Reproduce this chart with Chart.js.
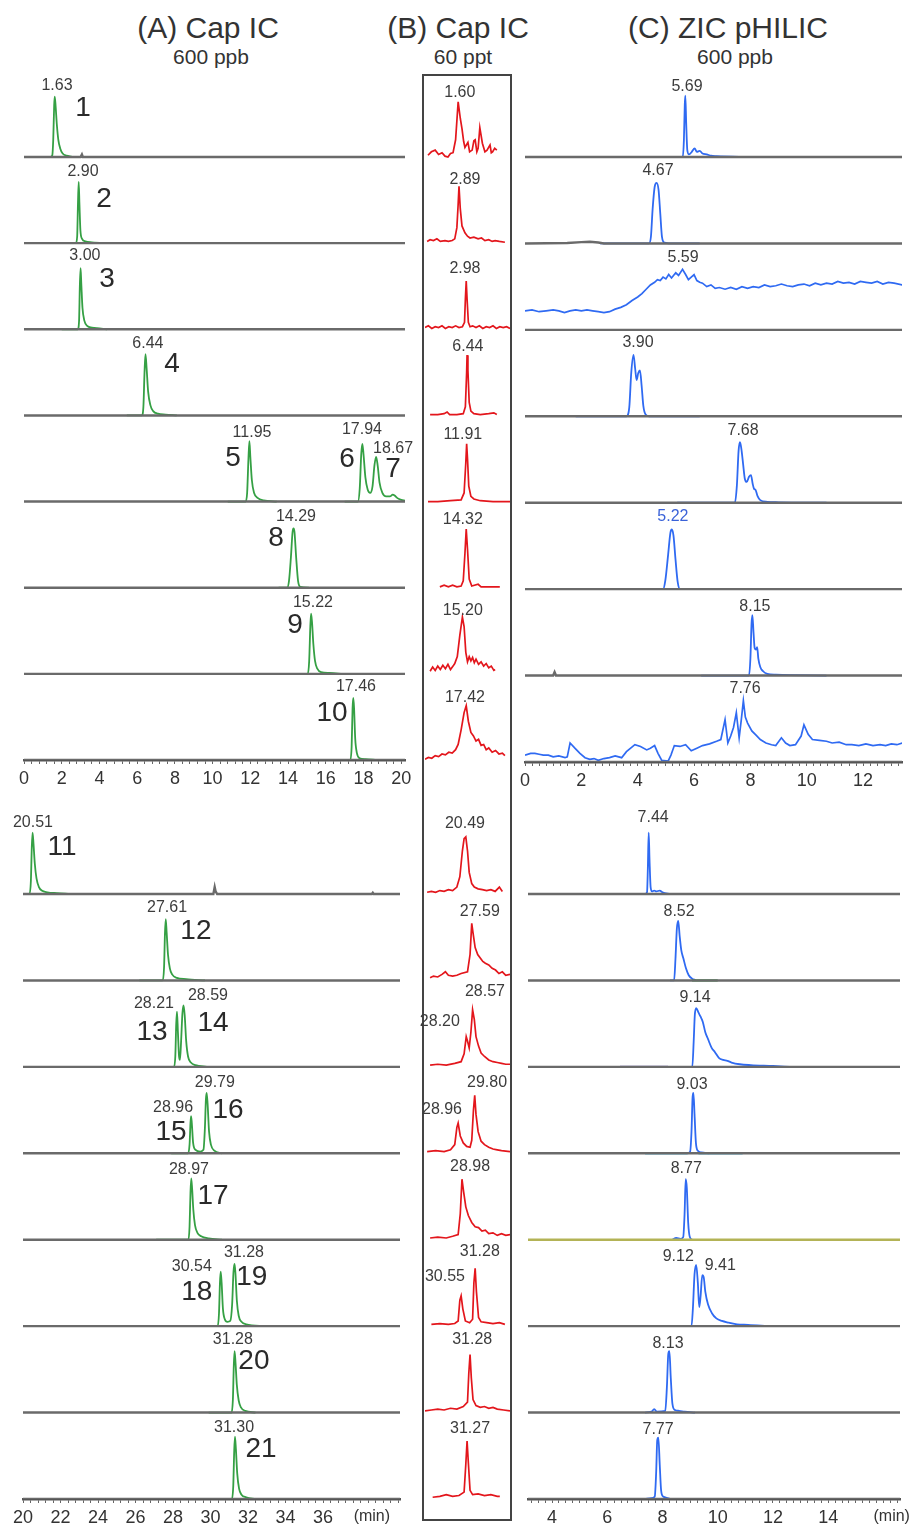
<!DOCTYPE html>
<html>
<head>
<meta charset="utf-8">
<script src="https://cdn.jsdelivr.net/npm/chart.js@4.4.1/dist/chart.umd.min.js"></script>
<style>
  html, body { margin: 0; padding: 0; background: #fff; }
  body { width: 915px; height: 1529px; position: relative; overflow: hidden;
         font-family: "Liberation Sans", Arial, sans-serif; color: #333; }
  canvas { position: absolute; }
  .title { position: absolute; transform: translateX(-50%); white-space: nowrap; font-size: 30px; line-height: 32px; }
  .sub { position: absolute; transform: translateX(-50%); white-space: nowrap; font-size: 21px; line-height: 24px; }
  #boxB { position: absolute; left: 422px; top: 74px; width: 86px; height: 1443px; border: 2px solid #444; }
</style>
</head>
<body>
<div class="title" style="left:208px;top:12px">(A) Cap IC</div>
<div class="sub" style="left:211px;top:45px">600 ppb</div>
<div class="title" style="left:458px;top:12px">(B) Cap IC</div>
<div class="sub" style="left:463px;top:45px">60 ppt</div>
<div class="title" style="left:728px;top:12px">(C) ZIC pHILIC</div>
<div class="sub" style="left:735px;top:45px">600 ppb</div>
<div id="boxB"></div>

<canvas id="aTop"></canvas>
<canvas id="aBot"></canvas>
<canvas id="bTop"></canvas>
<canvas id="bBot"></canvas>
<canvas id="cTop"></canvas>
<canvas id="cBot"></canvas>

<script>
// ---- (A) Cap IC, 600 ppb : [time (min), response] ----
const capA1 = [[1.40,0],[1.50,2],[1.55,20],[1.60,60],[1.63,70],[1.68,58],[1.74,38],[1.82,20],[1.92,10],[2.05,4],[2.25,1.5],[2.5,0.5],[2.7,0]];
const capA2 = [[1.9,0],[2.75,0],[2.82,8],[2.86,45],[2.90,71],[2.94,45],[2.99,15],[3.08,5],[3.25,2],[3.6,1],[4.5,0]];
const capA3 = [[2.0,0],[2.85,0],[2.92,10],[2.96,50],[3.00,71],[3.04,52],[3.10,25],[3.20,10],[3.35,4],[3.6,2],[4.0,1],[4.4,0]];
const capA4 = [[5.45,0],[6.25,0],[6.33,10],[6.39,50],[6.44,71],[6.50,55],[6.58,28],[6.70,12],[6.85,5],[7.1,2],[7.5,1],[8.1,0]];
const capA5 = [[10.8,0],[11.75,0],[11.83,10],[11.90,50],[11.95,70],[12.00,52],[12.08,25],[12.20,10],[12.40,4],[12.7,1.5],[13.4,0],[13.5,null],
               [17.0,0],[17.7,0],[17.80,15],[17.88,55],[17.94,67],[18.00,55],[18.10,28],[18.22,14],[18.35,10],[18.48,18],[18.58,42],[18.67,52],
               [18.75,42],[18.85,22],[19.0,10],[19.2,6],[19.4,6],[19.55,8],[19.65,7],[19.8,4],[20.0,2],[20.2,1]];
const capA6 = [[13.5,0],[13.95,0],[14.05,8],[14.15,35],[14.24,65],[14.29,69],[14.34,65],[14.43,35],[14.53,8],[14.65,1],[15.1,0]];
const capA7 = [[15.0,0],[15.05,0],[15.12,15],[15.18,55],[15.22,70],[15.27,60],[15.34,35],[15.43,15],[15.55,6],[15.75,2],[16.2,1],[16.9,0]];
const capA8 = [[16.2,0],[17.3,0],[17.37,15],[17.42,60],[17.46,72],[17.50,60],[17.56,25],[17.65,8],[17.8,2],[18.1,1],[18.7,0]];
const capA9 = [[20.0,0],[20.35,0],[20.42,15],[20.47,55],[20.51,71],[20.56,58],[20.63,35],[20.72,18],[20.85,8],[21.0,4],[21.3,2],[21.8,1],[22.5,0]];
const capA10 = [[26.2,0],[27.45,0],[27.52,15],[27.57,55],[27.61,71],[27.66,55],[27.73,30],[27.83,14],[27.95,7],[28.2,3],[28.7,1.5],[29.7,0]];
const capA11 = [[27.1,0],[28.05,0],[28.12,12],[28.17,50],[28.21,64],[28.26,40],[28.32,12],[28.37,8],[28.43,30],[28.50,62],[28.56,71],[28.62,60],[28.70,30],[28.80,12],[28.95,5],[29.2,2],[29.8,0]];
const capA12 = [[27.9,0],[28.8,0],[28.88,10],[28.93,35],[28.96,43],[29.00,35],[29.07,12],[29.2,4],[29.45,2],[29.62,4],[29.70,30],[29.75,62],[29.79,70],[29.84,58],[29.92,25],[30.02,10],[30.2,3],[30.6,0]];
const capA13 = [[27.1,0],[28.82,0],[28.88,15],[28.93,55],[28.97,71],[29.02,58],[29.08,35],[29.17,17],[29.3,8],[29.5,4],[29.9,1.5],[30.6,0]];
const capA14 = [[29.4,0],[30.38,0],[30.45,15],[30.50,50],[30.54,63],[30.59,50],[30.66,20],[30.76,8],[30.9,5],[31.05,6],[31.15,25],[31.22,62],[31.28,72],[31.33,60],[31.40,30],[31.5,12],[31.65,5],[31.9,2],[32.9,0]];
const capA15 = [[29.9,0],[31.12,0],[31.19,15],[31.24,55],[31.28,71],[31.33,58],[31.40,32],[31.5,14],[31.62,6],[31.85,2],[32.4,0]];
const capA16 = [[29.9,0],[31.14,0],[31.21,15],[31.26,55],[31.30,72],[31.35,58],[31.42,30],[31.52,12],[31.65,5],[31.9,2],[32.4,0]];
const baseA1 = [[0,0],[3.0,0],[3.07,3],[3.12,0],[20.2,0]];
const baseA9 = [[20,0],[30.15,0],[30.22,8],[30.27,3],[30.35,0],[38.6,0],[38.65,1.5],[38.7,0],[40.1,0]];

// ---- (B) Cap IC, 60 ppt : [time within the 2 min window around the peak, response] ----
const capB1 = [[0.07,2],[0.15,6],[0.24,8],[0.32,3],[0.40,5],[0.47,1],[0.54,0],[0.60,4],[0.66,5],[0.72,20],[0.78,64],[0.83,45],[0.87,33],[0.91,18],[0.94,11],[1.01,17],[1.05,6],[1.11,8],[1.15,19],[1.18,20],[1.22,6],[1.25,10],[1.29,34],[1.32,25],[1.35,16],[1.41,6],[1.46,8],[1.53,14],[1.56,5],[1.59,6],[1.64,10],[1.69,8]];
const capB2 = [[0.05,2],[0.12,4],[0.20,3],[0.28,5],[0.36,2],[0.47,3],[0.55,2],[0.64,3],[0.70,5],[0.75,18],[0.78,45],[0.80,66],[0.83,40],[0.87,20],[0.94,12],[1.00,8],[1.06,6],[1.15,7],[1.25,5],[1.33,6],[1.41,3],[1.50,4],[1.58,2],[1.65,3],[1.75,2],[1.88,1]];
const capB3 = [[0.00,2],[0.08,4],[0.16,1],[0.24,3],[0.32,2],[0.40,4],[0.48,1],[0.56,3],[0.64,2],[0.72,4],[0.80,2],[0.88,3],[0.93,8],[0.95,35],[0.97,56],[0.99,35],[1.02,8],[1.06,3],[1.12,4],[1.20,2],[1.28,4],[1.36,1],[1.44,3],[1.52,2],[1.60,4],[1.68,1],[1.76,3],[1.84,2],[1.92,3],[2.00,1]];
const capB4 = [[0.12,1],[0.30,1],[0.45,2],[0.52,4],[0.58,1],[0.75,1],[0.90,2],[0.95,10],[0.98,50],[0.99,70],[1.01,52],[1.04,15],[1.08,5],[1.15,2],[1.30,1],[1.50,2],[1.62,3],[1.69,1]];
const capB5 = [[0.07,0],[0.30,0],[0.60,1],[0.85,2],[0.92,10],[0.96,45],[0.98,67],[1.00,50],[1.03,18],[1.08,6],[1.15,3],[1.30,1],[1.60,0],[2.00,0]];
const capB6 = [[0.35,1],[0.45,3],[0.55,1],[0.65,3],[0.75,1],[0.85,2],[0.90,8],[0.94,40],[0.97,68],[1.00,45],[1.04,10],[1.10,2],[1.25,4],[1.32,1],[1.50,1],[1.76,1]];
const capB7 = [[0.12,3],[0.18,8],[0.24,4],[0.30,9],[0.36,5],[0.42,10],[0.48,6],[0.54,11],[0.60,5],[0.66,9],[0.70,12],[0.76,20],[0.82,45],[0.88,66],[0.92,55],[0.96,25],[1.00,14],[1.04,20],[1.08,15],[1.12,19],[1.16,13],[1.20,17],[1.26,11],[1.32,14],[1.38,9],[1.44,12],[1.50,7],[1.56,9],[1.62,4],[1.65,5]];
const capB8 = [[0.00,1],[0.08,3],[0.16,2],[0.24,5],[0.32,4],[0.40,7],[0.48,6],[0.56,9],[0.64,8],[0.72,12],[0.78,18],[0.85,35],[0.92,55],[0.97,63],[1.02,45],[1.08,32],[1.14,28],[1.20,22],[1.26,24],[1.32,17],[1.38,18],[1.44,12],[1.50,14],[1.58,9],[1.66,11],[1.74,7],[1.82,8],[1.88,5]];
const capB9 = [[0.05,2],[0.15,3],[0.25,2],[0.35,4],[0.45,3],[0.55,5],[0.65,4],[0.75,8],[0.82,20],[0.88,50],[0.92,64],[0.96,66],[1.00,50],[1.04,25],[1.10,12],[1.16,8],[1.25,6],[1.35,5],[1.45,4],[1.55,5],[1.65,3],[1.75,8],[1.82,3]];
const capB10 = [[0.12,3],[0.20,5],[0.30,4],[0.40,7],[0.48,10],[0.55,6],[0.65,5],[0.75,6],[0.85,8],[1.00,10],[1.06,30],[1.10,66],[1.13,55],[1.18,38],[1.24,30],[1.30,26],[1.36,22],[1.42,20],[1.50,18],[1.58,14],[1.66,12],[1.74,8],[1.82,10],[1.90,6],[2.00,7]];
const capB11 = [[0.12,2],[0.30,3],[0.50,2],[0.70,4],[0.85,6],[0.92,15],[0.97,35],[1.00,30],[1.04,22],[1.08,40],[1.12,66],[1.16,55],[1.20,35],[1.26,24],[1.32,16],[1.40,12],[1.50,8],[1.60,6],[1.70,5],[1.80,4],[1.90,3],[2.00,3]];
const capB12 = [[0.05,2],[0.25,3],[0.45,2],[0.60,4],[0.70,10],[0.75,30],[0.78,35],[0.83,20],[0.90,12],[0.98,8],[1.06,7],[1.10,15],[1.14,50],[1.17,67],[1.20,45],[1.25,25],[1.32,14],[1.40,10],[1.50,7],[1.60,5],[1.70,4],[1.80,3],[2.00,2]];
const capB13 = [[0.12,2],[0.30,3],[0.50,2],[0.65,4],[0.78,6],[0.83,30],[0.87,70],[0.91,55],[0.96,38],[1.02,28],[1.10,20],[1.18,15],[1.26,14],[1.34,10],[1.42,11],[1.50,7],[1.60,8],[1.70,5],[1.80,7],[1.90,5],[2.00,6]];
const capB14 = [[0.15,2],[0.35,3],[0.55,2],[0.70,3],[0.78,6],[0.82,30],[0.85,35],[0.89,20],[0.95,6],[1.05,4],[1.12,8],[1.15,50],[1.18,67],[1.21,40],[1.26,10],[1.32,5],[1.45,4],[1.60,3],[1.75,4],[1.88,2]];
const capB15 = [[0.00,2],[0.15,3],[0.30,4],[0.45,3],[0.60,5],[0.75,4],[0.90,7],[1.00,12],[1.03,45],[1.06,67],[1.09,40],[1.13,15],[1.20,8],[1.30,6],[1.40,7],[1.50,5],[1.60,6],[1.70,4],[1.85,3],[2.00,2]];
const capB16 = [[0.18,2],[0.35,3],[0.50,5],[0.65,3],[0.80,4],[0.92,8],[0.96,40],[0.99,67],[1.02,42],[1.06,10],[1.12,5],[1.25,6],[1.40,4],[1.55,5],[1.70,3],[1.76,3]];

// ---- (C) ZIC pHILIC, 600 ppb : [time (min), response] ----
const zic1 = [[3.55,0],[5.60,0],[5.64,20],[5.67,60],[5.69,71],[5.72,40],[5.76,8],[5.82,3],[5.92,6],[6.02,10],[6.10,6],[6.20,7],[6.30,4],[6.45,3],[6.60,1.5],[6.80,1],[8.0,0]];
const zic2 = [[2.66,0],[4.40,0],[4.47,8],[4.53,40],[4.60,65],[4.67,70],[4.74,62],[4.80,35],[4.86,8],[4.95,1],[5.3,0],[6.2,0]];
const zic3 = [[0,22],[0.25,23],[0.5,21],[0.75,22],[1.0,23],[1.2,22],[1.4,20],[1.6,22],[1.8,23],[2.0,22],[2.2,23],[2.4,22],[2.6,21],[2.8,20],[3.0,21],[3.2,24],[3.4,26],[3.6,29],[3.8,34],[4.0,38],[4.15,42],[4.3,47],[4.45,52],[4.6,55],[4.7,58],[4.8,57],[4.9,61],[5.0,59],[5.1,64],[5.2,60],[5.35,66],[5.45,63],[5.59,70],[5.7,64],[5.8,58],[5.9,61],[6.0,64],[6.1,57],[6.2,55],[6.3,54],[6.45,50],[6.6,52],[6.75,48],[6.9,49],[7.1,47],[7.3,49],[7.5,47],[7.7,50],[7.9,48],[8.1,50],[8.3,49],[8.5,52],[8.7,50],[8.9,51],[9.1,53],[9.3,51],[9.5,50],[9.7,52],[9.9,53],[10.1,51],[10.3,54],[10.5,52],[10.7,54],[10.9,53],[11.1,56],[11.3,54],[11.5,55],[11.7,53],[11.9,56],[12.1,55],[12.3,54],[12.5,56],[12.7,53],[12.9,55],[13.1,54],[13.4,52]];
const zic4 = [[1.8,0],[3.60,0],[3.70,10],[3.77,50],[3.85,71],[3.91,55],[3.96,42],[4.02,50],[4.08,53],[4.14,35],[4.20,12],[4.28,2],[4.4,0],[6.2,0]];
const zic5 = [[5.4,0],[7.45,0],[7.52,20],[7.58,60],[7.63,70],[7.68,62],[7.74,45],[7.80,28],[7.87,24],[7.95,30],[8.02,32],[8.08,22],[8.13,16],[8.18,15],[8.25,8],[8.35,3],[8.6,1],[9.0,0.5],[10.7,0]];
const zic6 = [[3.55,0],[4.90,0],[4.98,10],[5.08,40],[5.16,65],[5.21,69],[5.27,62],[5.34,35],[5.42,8],[5.5,0],[7.2,0]];
const zic7 = [[6.25,0],[7.95,0],[8.00,20],[8.04,60],[8.07,70],[8.11,50],[8.15,32],[8.20,30],[8.24,33],[8.28,20],[8.35,10],[8.45,5],[8.6,2],[8.9,1],[10.7,0]];
const zic8 = [[0,8],[0.2,10],[0.35,10],[0.5,9],[0.65,8],[0.83,8],[1.0,6],[1.2,7],[1.42,5],[1.5,6],[1.6,22],[1.77,16],[1.95,10],[2.13,5],[2.3,3],[2.45,4],[2.6,2],[2.8,4],[3.0,5],[3.2,7],[3.43,5],[3.6,12],[3.75,16],[3.9,20],[4.1,18],[4.32,14],[4.45,16],[4.6,19],[4.72,10],[4.85,2],[5.08,1],[5.18,8],[5.3,19],[5.5,18],[5.7,20],[5.9,13],[6.1,16],[6.3,19],[6.55,21],[6.8,24],[6.95,26],[7.1,49],[7.2,22],[7.3,30],[7.4,40],[7.5,57],[7.6,28],[7.68,50],[7.75,71],[7.82,52],[7.9,45],[8.05,36],[8.2,31],[8.35,26],[8.55,22],[8.75,20],[8.9,19],[9.1,28],[9.25,22],[9.4,19],[9.6,20],[9.8,30],[9.9,43],[10.05,32],[10.2,26],[10.45,25],[10.7,24],[10.9,22],[11.15,23],[11.4,20],[11.6,20],[11.85,19],[12.1,21],[12.35,19],[12.6,20],[12.8,19],[13.0,21],[13.2,20],[13.4,22]];
const zic9 = [[7.37,0],[7.44,2],[7.47,30],[7.50,71],[7.53,40],[7.57,8],[7.62,3],[7.70,4],[7.78,3],[7.90,4],[8.00,2],[8.28,0]];
const zic10 = [[8.27,0],[8.42,0],[8.47,25],[8.52,60],[8.57,69],[8.62,52],[8.68,35],[8.76,25],[8.85,14],[8.95,6],[9.07,2],[9.2,0.5]];
const zic11 = [[8.2,0],[9.08,0],[9.13,30],[9.17,60],[9.22,68],[9.30,63],[9.38,58],[9.46,52],[9.55,40],[9.65,32],[9.78,22],[9.90,17],[10.05,10],[10.2,8],[10.35,7],[10.5,5],[10.8,3],[11.2,2],[12.0,1],[12.6,0]];
const zic12 = [[8.9,0],[9.00,2],[9.05,25],[9.09,65],[9.12,70],[9.16,45],[9.21,12],[9.28,3],[9.4,1],[9.7,0]];
const zic13 = [[8.35,0],[8.50,2],[8.65,1],[8.75,3],[8.80,30],[8.84,70],[8.88,60],[8.93,20],[8.99,3],[9.07,0]];
const zic14 = [[8.27,0],[9.05,0],[9.10,20],[9.16,60],[9.22,71],[9.28,50],[9.33,22],[9.38,35],[9.44,59],[9.49,57],[9.55,40],[9.65,25],[9.79,15],[9.95,9],[10.15,6],[10.4,4],[10.7,2],[11.1,1.5],[11.8,0]];
const zic15 = [[7.37,0],[7.60,1],[7.70,4],[7.80,1],[8.10,2],[8.16,30],[8.21,68],[8.25,71],[8.30,40],[8.36,10],[8.45,3],[8.6,2],[8.8,1],[9.18,0]];
const zic16 = [[7.37,0],[7.60,1],[7.72,3],[7.77,30],[7.81,68],[7.85,71],[7.90,40],[7.95,10],[8.02,3],[8.1,2],[8.27,0]];
const baseC2 = [[0,0],[1.5,0.5],[2.0,1.5],[2.3,2],[2.6,1],[2.8,0],[13.4,0]];
const baseC7 = [[0,0],[1.0,0],[1.05,4],[1.1,0],[13.4,0]];
const tailC10 = [[9.07,0],[10.0,0]];
const segC11 = [[6.46,0],[8.2,0]];
const segC12 = [[7.37,0],[8.9,0],[8.9,null],[9.3,0],[10.9,0]];

// x-axis tick labels (min)
const ticksAtop = [0, 2, 4, 6, 8, 10, 12, 14, 16, 18, 20];
const ticksAbot = [20, 22, 24, 26, 28, 30, 32, 34, 36];
const ticksCtop = [0, 2, 4, 6, 8, 10, 12];
const ticksCbot = [4, 6, 8, 10, 12, 14];

const GREEN = '#35a044', RED = '#e3161c', BLUE = '#2f6af2', BASE = '#6a6a6a';
const FONT = '"Liberation Sans", Arial, sans-serif';
const ROW = 100;     // vertical band of one chromatogram (response units)
const HEAD = 100;    // room above the first trace
const PADX = 24;
const AXIS_H = 34;

const rowsAtop = [
  { trace: capA1, base: baseA1, rt: [['1.63', 1.75, 83]], num: [['1', 3.13, 57]] },
  { trace: capA2, rt: [['2.90', 3.13, 83]], num: [['2', 4.24, 51]] },
  { trace: capA3, rt: [['3.00', 3.23, 85]], num: [['3', 4.4, 58]] },
  { trace: capA4, rt: [['6.44', 6.57, 83]], num: [['4', 7.85, 59]] },
  { trace: capA5, rt: [['11.95', 12.09, 80], ['17.94', 17.92, 83], ['18.67', 19.57, 61]],
    num: [['5', 11.08, 50], ['6', 17.13, 49], ['7', 19.57, 37]] },
  { trace: capA6, rt: [['14.29', 14.42, 82]], num: [['8', 13.36, 57]] },
  { trace: capA7, rt: [['15.22', 15.32, 83]], num: [['9', 14.37, 56]] },
  { trace: capA8, rt: [['17.46', 17.6, 85]], num: [['10', 16.33, 54]] }
];
const rowsAbot = [
  { trace: capA9, base: baseA9, rt: [['20.51', 20.53, 83]], num: [['11', 22.08, 54]] },
  { trace: capA10, rt: [['27.61', 27.68, 84]], num: [['12', 29.22, 57]] },
  { trace: capA11, rt: [['28.21', 26.98, 73], ['28.59', 29.86, 82]], num: [['13', 26.88, 40], ['14', 30.13, 50]] },
  { trace: capA12, rt: [['28.96', 28.0, 53], ['29.79', 30.23, 82]], num: [['15', 27.89, 24], ['16', 30.93, 50]] },
  { trace: capA13, rt: [['28.97', 28.85, 81]], num: [['17', 30.13, 50]] },
  { trace: capA14, rt: [['30.54', 29.0, 69], ['31.28', 31.78, 85]], num: [['18', 29.27, 39], ['19', 32.2, 57]] },
  { trace: capA15, rt: [['31.28', 31.19, 84]], num: [['20', 32.31, 59]] },
  { trace: capA16, rt: [['31.30', 31.25, 83]], num: [['21', 32.69, 57]] }
];
const rowsBtop = [
  { trace: capB1, noisy: true, rt: [['1.60', 0.82, 75]] },
  { trace: capB2, noisy: true, rt: [['2.89', 0.94, 74]] },
  { trace: capB3, noisy: true, rt: [['2.98', 0.94, 71]] },
  { trace: capB4, noisy: true, rt: [['6.44', 1.01, 80]] },
  { trace: capB5, noisy: true, rt: [['11.91', 0.89, 78]] },
  { trace: capB6, noisy: true, rt: [['14.32', 0.89, 79]] },
  { trace: capB7, noisy: true, rt: [['15.20', 0.89, 73]] },
  { trace: capB8, noisy: true, rt: [['17.42', 0.94, 73]] }
];
const rowsBbot = [
  { trace: capB9, noisy: true, rt: [['20.49', 0.94, 82]] },
  { trace: capB10, noisy: true, rt: [['27.59', 1.29, 80]] },
  { trace: capB11, noisy: true, rt: [['28.57', 1.41, 87], ['28.20', 0.35, 52]] },
  { trace: capB12, noisy: true, rt: [['29.80', 1.46, 82], ['28.96', 0.40, 51]] },
  { trace: capB13, noisy: true, rt: [['28.98', 1.06, 85]] },
  { trace: capB14, noisy: true, rt: [['31.28', 1.29, 86], ['30.55', 0.47, 57]] },
  { trace: capB15, noisy: true, rt: [['31.28', 1.11, 84]] },
  { trace: capB16, noisy: true, rt: [['31.27', 1.06, 82]] }
];
const rowsCtop = [
  { trace: zic1, rt: [['5.69', 5.75, 81]] },
  { trace: zic2, base: baseC2, rt: [['4.67', 4.72, 84]] },
  { trace: zic3, noisy: true, rt: [['5.59', 5.61, 84]] },
  { trace: zic4, rt: [['3.90', 4.01, 85]] },
  { trace: zic5, rt: [['7.68', 7.74, 84]] },
  { trace: zic6, rt: [['5.22', 5.25, 84]], rtColor: '#3a62d8' },
  { trace: zic7, base: baseC7, rt: [['8.15', 8.16, 80]] },
  { trace: zic8, noisy: true, rt: [['7.76', 7.81, 85]] }
];
const rowsCbot = [
  { trace: zic9, rt: [['7.44', 7.66, 88]] },
  { trace: zic10, extra: [{ data: tailC10, color: GREEN }], rt: [['8.52', 8.6, 80]] },
  { trace: zic11, extra: [{ data: segC11, color: '#7b6fc2' }], rt: [['9.14', 9.18, 80]] },
  { trace: zic12, extra: [{ data: segC12, color: '#5bbfe6' }], rt: [['9.03', 9.07, 80]] },
  { trace: zic13, baseColor: '#b3b356', rt: [['8.77', 8.86, 82]] },
  { trace: zic14, rt: [['9.12', 8.57, 81], ['9.41', 10.09, 70]] },
  { trace: zic15, rt: [['8.13', 8.2, 80]] },
  { trace: zic16, rt: [['7.77', 7.84, 80]] }
];

function buildDatasets(rows, xMin, xMax, color, withBase) {
  const ds = [];
  rows.forEach((r, i) => {
    const off = -ROW * i;
    const shift = p => ({ x: p[0], y: p[1] === null ? null : p[1] + off });
    if (withBase) {
      ds.push({ data: (r.base || [[xMin, 0], [xMax, 0]]).map(shift),
                borderColor: r.baseColor || BASE, borderWidth: 2.4 });
    }
    (r.extra || []).forEach(seg => ds.push({ data: seg.data.map(shift), borderColor: seg.color, borderWidth: 2.2 }));
    ds.push({ data: r.trace.map(shift), borderColor: color, borderWidth: r.noisy ? 1.7 : 1.8,
              cubicInterpolationMode: r.noisy ? 'default' : 'monotone' });
  });
  return ds;
}

function labelPlugin(rows, unitAt) {
  return {
    id: 'peakLabels',
    afterDatasetsDraw(chart) {
      const { ctx, scales: { x, y } } = chart;
      ctx.save();
      ctx.textAlign = 'center';
      ctx.textBaseline = 'middle';
      rows.forEach((r, i) => {
        const off = -ROW * i;
        ctx.font = '16px ' + FONT;
        ctx.fillStyle = r.rtColor || '#3c3c3c';
        (r.rt || []).forEach(([t, tx, v]) => ctx.fillText(t, x.getPixelForValue(tx), y.getPixelForValue(v + off)));
        ctx.font = '28px ' + FONT;
        ctx.fillStyle = '#2a2a2a';
        (r.num || []).forEach(([t, tx, v]) => ctx.fillText(t, x.getPixelForValue(tx), y.getPixelForValue(v + off)));
      });
      if (unitAt !== undefined) {
        ctx.font = '16px ' + FONT;
        ctx.fillStyle = '#333';
        ctx.fillText('(min)', x.getPixelForValue(unitAt), x.top + 18);
      }
      ctx.restore();
    }
  };
}

function panel(id, o) {
  const n = o.rows.length;
  const ppu = (o.lastBase - o.firstBase) / ((n - 1) * ROW);
  const top = Math.round(o.firstBase - HEAD * ppu);
  const yMax = (o.firstBase - top) / ppu;
  const axisH = o.ticks ? AXIS_H : 0;
  const cv = document.getElementById(id);
  cv.width = o.right - o.left + 2 * PADX;
  cv.height = o.lastBase - top + axisH;
  cv.style.left = (o.left - PADX) + 'px';
  cv.style.top = top + 'px';

  const x = { type: 'linear', min: o.xMin, max: o.xMax, display: !!o.ticks };
  if (o.ticks) {
    Object.assign(x, {
      border: { display: true, color: '#555', width: 2.4 },
      grid: { display: true, drawOnChartArea: false, drawTicks: true, tickLength: 4, tickColor: '#666', lineWidth: 1 },
      ticks: {
        stepSize: o.step, autoSkip: false, maxRotation: 0, includeBounds: false, padding: 4,
        color: '#333', font: { size: 18, family: FONT },
        callback: v => {
          const hit = o.ticks.find(t => Math.abs(t - v) < 1e-6);
          return hit === undefined ? '' : String(hit);
        }
      },
      afterFit: s => { s.height = AXIS_H; }
    });
  }

  new Chart(cv, {
    type: 'line',
    data: { datasets: buildDatasets(o.rows, o.xMin, o.xMax, o.color, o.withBase) },
    options: {
      responsive: false, animation: false, devicePixelRatio: 1,
      layout: { padding: { left: PADX, right: PADX, top: 0, bottom: 0 } },
      elements: { point: { radius: 0 }, line: { tension: 0 } },
      scales: { x, y: { type: 'linear', display: false, min: -(n - 1) * ROW, max: yMax } },
      plugins: { legend: { display: false }, tooltip: { enabled: false } }
    },
    plugins: [labelPlugin(o.rows, o.unitAt)]
  });
}

panel('aTop', { rows: rowsAtop, left: 24, right: 405, firstBase: 157, lastBase: 760,
  xMin: 0, xMax: 20.2, step: 0.4, ticks: ticksAtop, color: GREEN, withBase: true });
panel('aBot', { rows: rowsAbot, left: 23, right: 400, firstBase: 894, lastBase: 1499,
  xMin: 20, xMax: 40.1, step: 0.4, ticks: ticksAbot, unitAt: 38.6, color: GREEN, withBase: true });
panel('bTop', { rows: rowsBtop, left: 425, right: 510, firstBase: 157, lastBase: 760,
  xMin: 0, xMax: 2, color: RED, withBase: false });
panel('bBot', { rows: rowsBbot, left: 425, right: 510, firstBase: 894, lastBase: 1499,
  xMin: 0, xMax: 2, color: RED, withBase: false });
panel('cTop', { rows: rowsCtop, left: 525, right: 902, firstBase: 157, lastBase: 762,
  xMin: 0, xMax: 13.38, step: 0.25, ticks: ticksCtop, color: BLUE, withBase: true });
panel('cBot', { rows: rowsCbot, left: 528, right: 900, firstBase: 894, lastBase: 1499,
  xMin: 3.13, xMax: 16.6, step: 0.25, ticks: ticksCbot, unitAt: 16.3, color: BLUE, withBase: true });
</script>
</body>
</html>
